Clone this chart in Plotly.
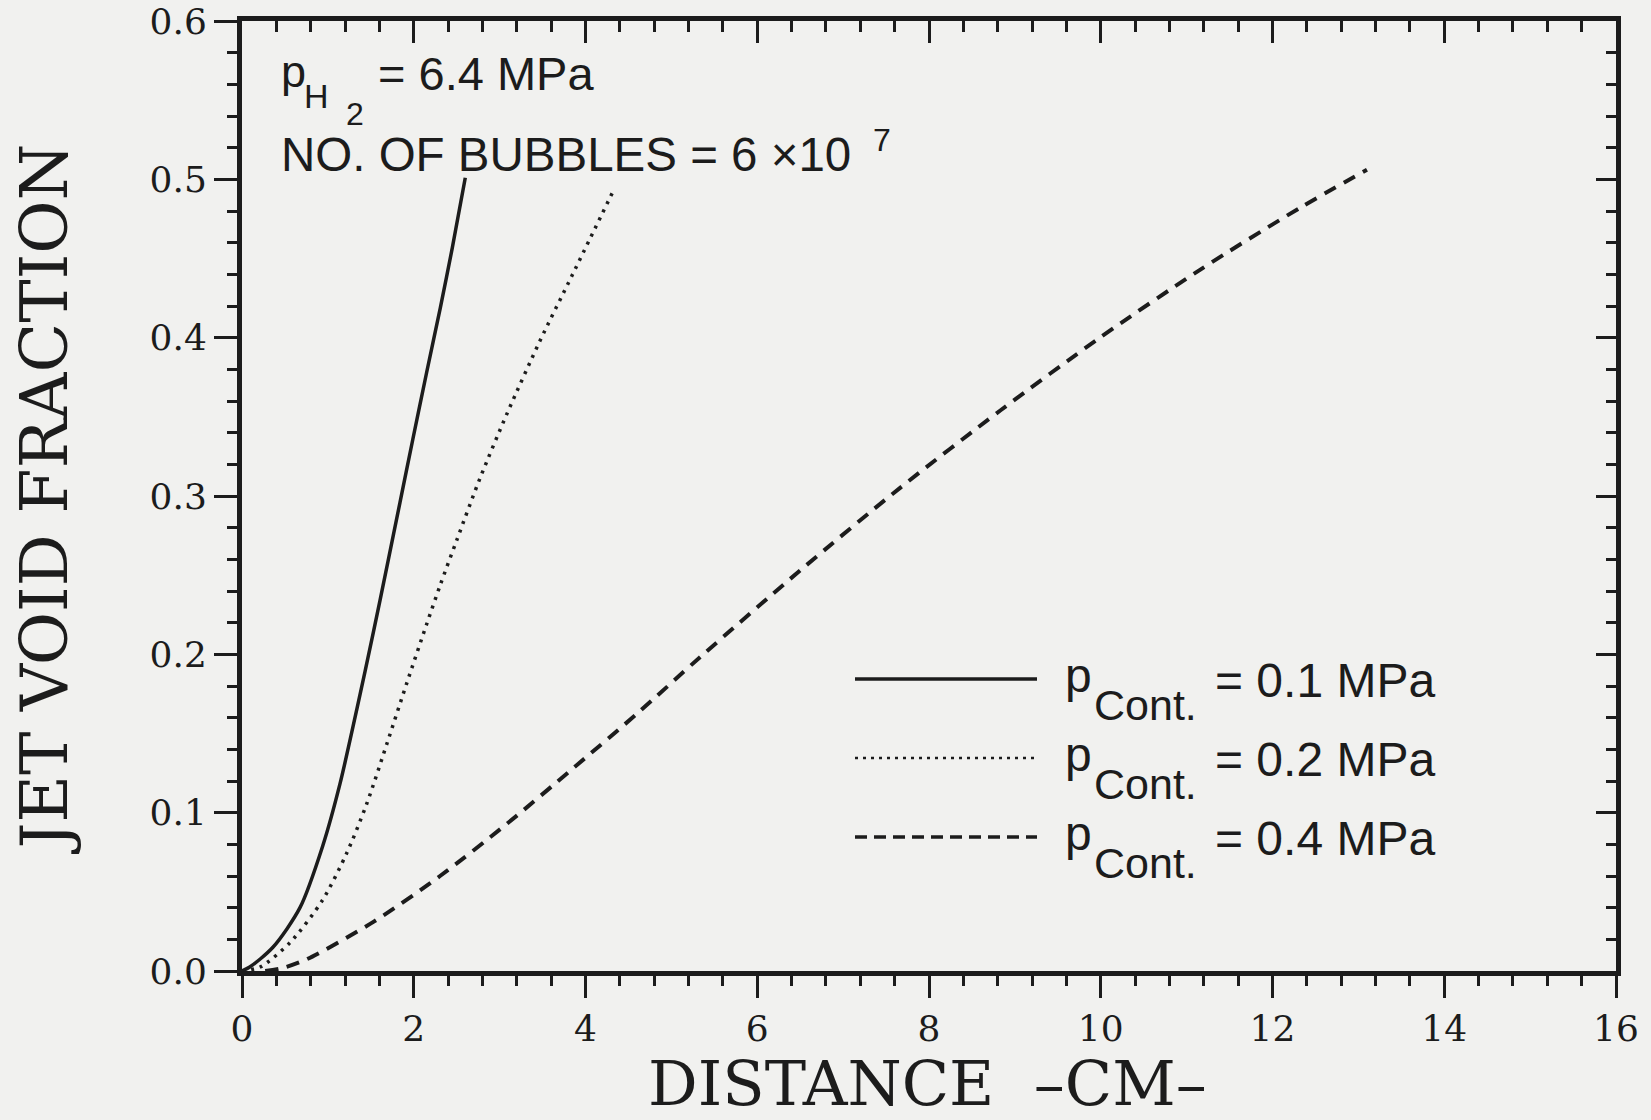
import plotly.graph_objects as go

# ---- data ----
x_p01 = [0.0, 0.09, 0.36, 0.675, 0.94, 1.14, 1.34, 1.53, 1.69, 1.84, 1.99, 2.15, 2.31, 2.45, 2.60]
y_p01 = [0.0, 0.0025, 0.015, 0.040, 0.079, 0.118, 0.166, 0.214, 0.256, 0.296, 0.336, 0.378, 0.419, 0.457, 0.501]

x_p02 = [0.0, 0.21, 0.56, 0.94, 1.22, 1.455, 1.69, 1.92, 2.15, 2.31, 2.50, 2.77, 3.086, 3.47, 3.85, 4.34]
y_p02 = [0.0, 0.0025, 0.018, 0.045, 0.0745, 0.106, 0.144, 0.182, 0.219, 0.244, 0.272, 0.311, 0.352, 0.398, 0.440, 0.4945]

x_p04 = [0.27, 0.48, 0.757, 1.53, 2.306, 3.086, 3.855, 4.61, 5.33, 6.50, 7.66, 8.83, 9.99, 11.16, 12.32, 13.10]
y_p04 = [0.0, 0.002, 0.0075, 0.031, 0.060, 0.093, 0.128, 0.163, 0.198, 0.253, 0.305, 0.354, 0.400, 0.443, 0.482, 0.506]

series_names = ["0.1 MPa", "0.2 MPa", "0.4 MPa"]
x_ticks = [0, 2, 4, 6, 8, 10, 12, 14, 16]
y_ticks = [0.0, 0.1, 0.2, 0.3, 0.4, 0.5, 0.6]
x_title = "DISTANCE  \u2013CM\u2013"
y_title = "JET VOID FRACTION"

# ---- layout geometry (pixels) ----
W, H = 1651, 1120
L, R, T, B = 242, 1616, 21, 971
INK = "#1c1c1c"
BG = "#f1f1ef"
SANS = "Liberation Sans, Arial, sans-serif"
SERIF = "DejaVu Serif, serif"


def px(xp):
    return (xp - L) / (R - L)


def py(yp):
    return (B - yp) / (B - T)


fig = go.Figure()
styles = [
    dict(color=INK, width=3.5, dash="solid"),
    dict(color=INK, width=3.5, dash="3px,6px"),
    dict(color=INK, width=4, dash="13px,9px"),
]
for xs, ys, nm, st in zip([x_p01, x_p02, x_p04], [y_p01, y_p02, y_p04], series_names, styles):
    fig.add_trace(go.Scatter(x=xs, y=ys, mode="lines", name=nm, line=dict(shape="spline", smoothing=0.8, **st),
                             showlegend=False))

# the same series, transparent, on the mirrored (top/right) axes so those axes get drawn
fig.add_trace(go.Scatter(x=x_p04, y=y_p04, xaxis="x2", yaxis="y2", mode="lines", opacity=0,
                         line=dict(width=0), showlegend=False, hoverinfo="skip"))

axis_common = dict(showgrid=False, zeroline=False, showline=True, linewidth=5, linecolor=INK,
                   tickcolor=INK, tickwidth=3, automargin=False)

fig.update_layout(
    width=W, height=H,
    margin=dict(l=L, r=W - R, t=T, b=H - B),
    paper_bgcolor=BG, plot_bgcolor=BG,
    xaxis=dict(range=[0, 16], tickvals=x_ticks, ticktext=[str(v) for v in x_ticks], ticks="outside", ticklen=22,
               minor=dict(dtick=0.4, ticks="outside", ticklen=10, tickwidth=3, tickcolor=INK),
               tickfont=dict(family=SERIF, size=36, color=INK),
               **axis_common),
    yaxis=dict(range=[0, 0.6], tickvals=y_ticks, ticktext=["%.1f" % v for v in y_ticks], ticks="outside", ticklen=23,
               minor=dict(dtick=0.02, ticks="outside", ticklen=10, tickwidth=3, tickcolor=INK),
               tickfont=dict(family=SERIF, size=36, color=INK),
               title=dict(text=y_title, font=dict(family=SERIF, size=65, color=INK), standoff=62),
               **axis_common),
    xaxis2=dict(range=[0, 16], overlaying="x", side="top", anchor="y2", tickvals=x_ticks, showticklabels=False,
                ticks="inside", ticklen=22,
                minor=dict(dtick=0.4, ticks="inside", ticklen=11, tickwidth=3, tickcolor=INK),
                **axis_common),
    yaxis2=dict(range=[0, 0.6], overlaying="y", side="right", anchor="x2", tickvals=y_ticks, showticklabels=False,
                ticks="inside", ticklen=20,
                minor=dict(dtick=0.02, ticks="inside", ticklen=10, tickwidth=3, tickcolor=INK),
                **axis_common),
)

annotations = []

# x-axis title (placed as an annotation so it sits as in the reference)
annotations.append(dict(text=x_title, xref="paper", yref="paper", x=px(927), y=py(1083),
                        xanchor="center", yanchor="middle", showarrow=False, borderpad=0,
                        font=dict(family=SERIF, size=62, color=INK)))


def txt(text, left, baseline, size):
    annotations.append(dict(text=text, xref="paper", yref="paper", x=px(left), y=py(baseline - 0.3465 * size),
                            xanchor="left", yanchor="middle", showarrow=False, borderpad=0,
                            font=dict(family=SANS, size=size, color=INK)))


# header annotation
txt("p", 280, 87, 45)
txt("H", 303, 108, 34)
txt("2", 345, 125, 32)
txt("= 6.4 MPa", 377, 90, 47)
txt("NO. OF BUBBLES = 6 \u00d710", 280, 171, 47.5)
txt("7", 872, 151, 32)

# legend (manual, long line samples)
leg_dash = ["solid", "3px,5px", "12px,7px"]
leg_w = [3.5, 2.5, 3.5]
shapes = []
for r, (nm, d, lw) in enumerate(zip(series_names, leg_dash, leg_w)):
    yl = 679 + 79 * r
    shapes.append(dict(type="line", xref="paper", yref="paper", x0=px(855), x1=px(1037), y0=py(yl), y1=py(yl),
                       line=dict(color=INK, width=lw, dash=d)))
    txt("p", 1064, 692 + 79 * r, 48)
    txt("Cont.", 1093, 720 + 79 * r, 43)
    txt("= " + nm, 1214, 697 + 79 * r, 48)

fig.update_layout(annotations=annotations, shapes=shapes)

fig.write_html("out.html", config={"displayModeBar": False},
               post_script="document.body.style.margin='0px';document.body.style.background='%s';" % BG)
